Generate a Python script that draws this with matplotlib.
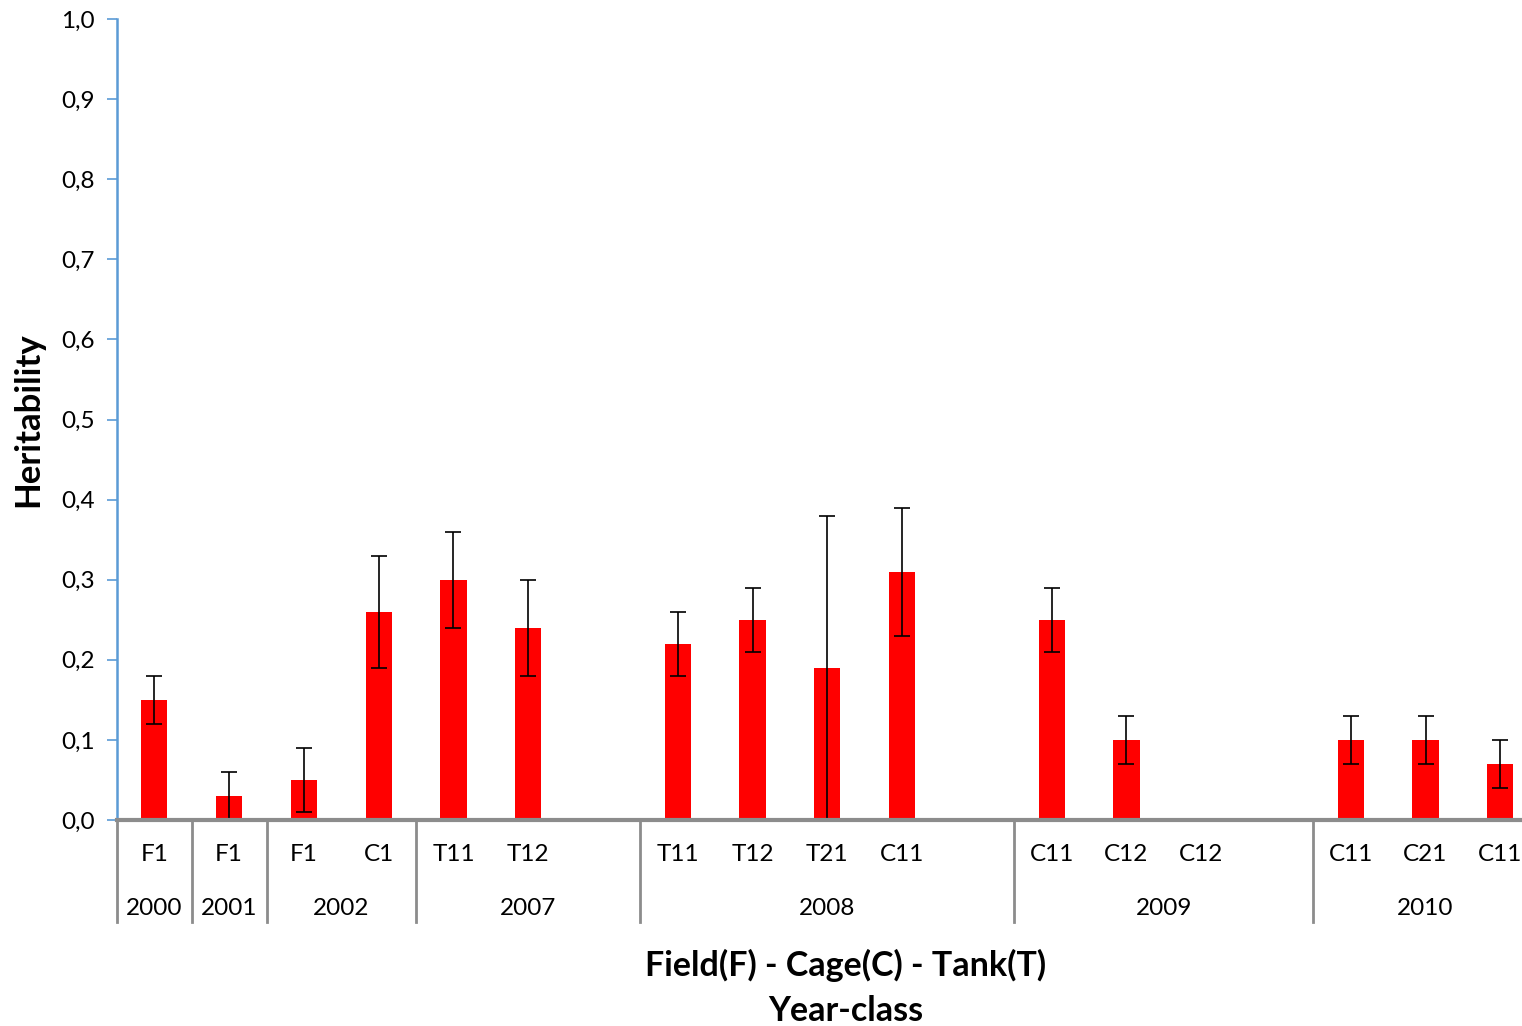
import numpy as np
import matplotlib.pyplot as plt

plt.rcParams['font.family'] = ['Lato', 'DejaVu Sans']

# categories (blank = empty slot in the Excel sheet)
labels = ['F1', 'F1', 'F1', 'C1', 'T11', 'T12', '', 'T11', 'T12', 'T21', 'C11', '',
          'C11', 'C12', 'C12', '', 'C11', 'C21', 'C11']
years = ['2000', '2001', '2002', '2007', '2008', '2009', '2010']
group_sizes = [1, 1, 2, 3, 5, 4, 3]

h2 = [0.15, 0.03, 0.05, 0.26, 0.30, 0.24, np.nan, 0.22, 0.25, 0.19, 0.31, np.nan,
      0.25, 0.10, np.nan, np.nan, 0.10, 0.10, 0.07]
err_lo = [0.03, 0.03, 0.04, 0.07, 0.06, 0.06, 0, 0.04, 0.04, 0.19, 0.08, 0,
          0.04, 0.03, 0, 0, 0.03, 0.03, 0.03]
err_hi = [0.03, 0.03, 0.04, 0.07, 0.06, 0.06, 0, 0.04, 0.04, 0.19, 0.08, 0,
          0.04, 0.03, 0, 0, 0.03, 0.03, 0.03]

x = np.arange(len(labels))
h2 = np.array(h2)
ok = ~np.isnan(h2)

fig = plt.figure(figsize=(15.22, 10.26), dpi=100)
ax = fig.add_axes([117 / 1522, 1 - 820 / 1026, 1 - 117 / 1522, (820 - 19) / 1026])

ax.bar(x[ok], h2[ok], width=0.35, color='#ff0000', zorder=2)
ax.errorbar(x[ok], h2[ok], yerr=[np.array(err_lo)[ok], np.array(err_hi)[ok]],
            fmt='none', ecolor='black', elinewidth=1.2, capsize=6, capthick=1.2, zorder=2.3)

ax.set_xlim(-0.5, 18.29)
ax.set_ylim(0, 1.0)
ax.set_yticks(np.arange(0, 1.01, 0.1))
ax.set_yticklabels([f'{v:.1f}'.replace('.', ',') for v in np.arange(0, 1.01, 0.1)])
ax.tick_params(axis='y', length=7, width=1.2, color='#5b9bd5', labelsize=17.5, pad=9)

ax.set_xticks(x)
ax.set_xticklabels(labels)
ax.tick_params(axis='x', length=0, labelsize=17.5, pad=17)

for s in ['top', 'right']:
    ax.spines[s].set_visible(False)
ax.spines['left'].set_color('#5b9bd5')
ax.spines['left'].set_linewidth(1.8)
ax.spines['bottom'].set_color('#8c8c8c')
ax.spines['bottom'].set_linewidth(3)

# year row and group dividers
trans = ax.get_xaxis_transform()
start = 0
bounds = [-0.5]
for yr, n in zip(years, group_sizes):
    ax.text(start + (n - 1) / 2, -0.111, yr, transform=trans, ha='center', va='center',
            fontsize=17.5)
    start += n
    bounds.append(start - 0.5)
for b in bounds[:-1]:
    ax.plot([b, b], [0, -0.127], transform=trans, color='#8c8c8c', lw=2, clip_on=False)

ax.set_ylabel('Heritability', fontsize=25, fontweight='bold')
ax.yaxis.set_label_coords(-0.052, 0.5)
fig.text(846 / 1522, 1 - 965 / 1026, 'Field(F) - Cage(C) - Tank(T)', ha='center',
         va='center', fontsize=24.5, fontweight='bold')
fig.text(846 / 1522, 1 - 1011 / 1026, 'Year-class', ha='center', va='center',
         fontsize=24.5, fontweight='bold')

fig.savefig('out.png', dpi=100)
